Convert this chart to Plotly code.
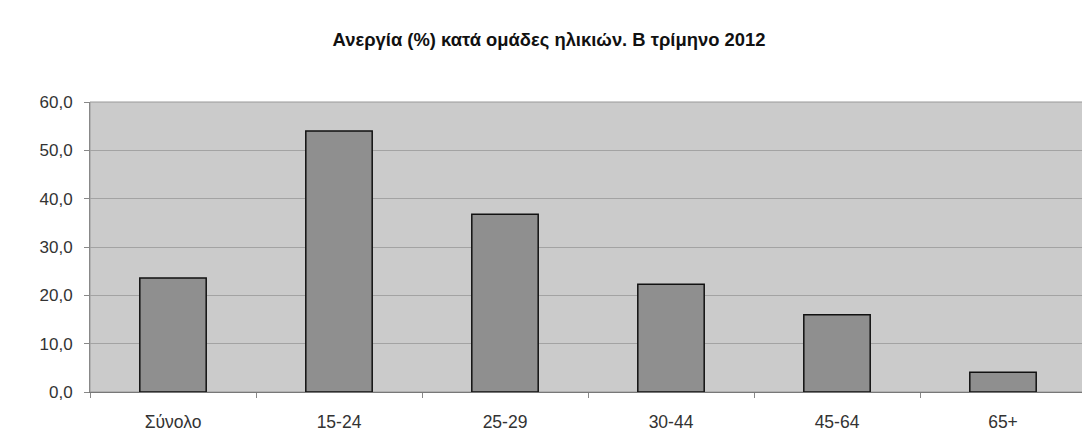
import plotly.graph_objects as go

categories = ["Σύνολο", "15-24", "25-29", "30-44", "45-64", "65+"]
unemployment = [23.6, 54.0, 36.8, 22.3, 16.0, 4.1]
title_text = "Ανεργία (%) κατά ομάδες ηλικιών. Β τρίμηνο 2012"

fig = go.Figure(go.Bar(
    x=categories, y=unemployment,
    marker=dict(color="#8f8f8f", line=dict(color="#111111", width=1.5)),
))

fig.update_layout(
    width=1082, height=440,
    margin=dict(l=82, r=4, t=94, b=56),
    paper_bgcolor="white",
    plot_bgcolor="#cbcbcb",
    bargap=0.6,
    separators=",.",
    showlegend=False,
    title=dict(text="<b>" + title_text + "</b>", x=0.5, xanchor="center", y=1 - 32 / 440, yanchor="middle",
               font=dict(family="Liberation Sans, Arial", size=18.4, color="#111111")),
    font=dict(family="Liberation Sans, Arial", size=17, color="#333333"),
)
fig.update_yaxes(
    range=[0, 60], dtick=10, tickformat=".1f",
    showgrid=True, gridcolor="#a3a3a3", gridwidth=1,
    showline=True, linecolor="#888888", linewidth=1,
    ticks="outside", ticklen=5, tickcolor="#888888",
    ticklabelstandoff=8,
    zeroline=False, mirror=False,
    tickfont=dict(size=17, color="#333333"),
)
fig.update_xaxes(
    showline=True, linecolor="#777777", linewidth=1,
    ticks="outside", tickson="boundaries", ticklen=5, tickcolor="#888888",
    ticklabelstandoff=14,
    tickfont=dict(size=17.5, color="#333333"),
    showgrid=False,
)
fig.add_shape(type="rect", xref="paper", yref="paper", x0=0, x1=1, y0=0, y1=1,
              line=dict(color="#999999", width=1), fillcolor="rgba(0,0,0,0)", layer="below")

fig.write_html("out.html")
